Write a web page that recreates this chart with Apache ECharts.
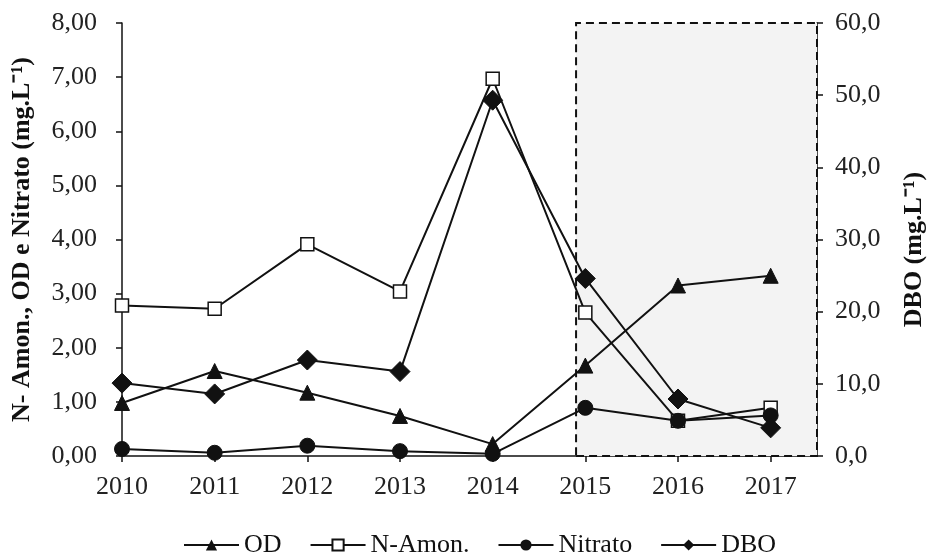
<!DOCTYPE html>
<html><head><meta charset="utf-8">
<script src="https://cdn.jsdelivr.net/npm/echarts@6/dist/echarts.min.js"></script>
<style>html,body{margin:0;padding:0;background:#fff}#c{width:935px;height:555px}</style>
</head><body><div id="c"></div>
<script>
const years = [2010, 2011, 2012, 2013, 2014, 2015, 2016, 2017];
const od = [0.98, 1.57, 1.17, 0.74, 0.22, 1.67, 3.15, 3.33];
const nAmon = [2.78, 2.72, 3.91, 3.04, 6.97, 2.65, 0.65, 0.89];
const nitrato = [0.13, 0.06, 0.19, 0.09, 0.04, 0.89, 0.65, 0.75];
const dbo = [10.1, 8.6, 13.3, 11.7, 49.3, 24.6, 7.9, 3.9];
const shadeRange = [2014.9, 2017.5];

const font = 'Liberation Serif';
const pairs = arr => years.map((y, i) => [y, arr[i]]);
const lineStyle = {color: '#111', width: 2};

const chart = echarts.init(document.getElementById('c'));
chart.setOption({
  animation: false,
  textStyle: {fontFamily: font},
  grid: {left: 122, right: 111, top: 23, bottom: 99},
  legend: {
    left: 178, top: 527, itemWidth: 55, itemHeight: 14, itemGap: 28,
    textStyle: {fontFamily: font, fontSize: 26, color: '#111'},
    data: ['OD', 'N-Amon.', 'Nitrato', 'DBO']
  },
  xAxis: {
    type: 'value', min: 2010, max: 2017.5, interval: 1,
    axisLine: {lineStyle: {color: '#111', width: 1.5}},
    axisTick: {lineStyle: {color: '#111', width: 1.5}, length: 6},
    axisLabel: {fontFamily: font, fontSize: 26, color: '#222', margin: 18, showMaxLabel: false,
      formatter: v => Number.isInteger(v) ? String(v) : ''},
    splitLine: {show: false}
  },
  yAxis: [{
    type: 'value', min: 0, max: 8, interval: 1, position: 'left',
    name: 'N- Amon., OD e Nitrato (mg.L⁻¹)', nameLocation: 'middle', nameGap: 87,
    nameTextStyle: {fontFamily: font, fontSize: 26, fontWeight: 'bold', color: '#111'},
    axisLine: {show: true, lineStyle: {color: '#111', width: 1.5}},
    axisTick: {show: true, lineStyle: {color: '#111', width: 1.5}, length: 6},
    axisLabel: {fontFamily: font, fontSize: 26, color: '#222', margin: 25,
      formatter: v => v.toFixed(2).replace('.', ',')},
    splitLine: {show: false}
  }, {
    type: 'value', min: 0, max: 60, interval: 10, position: 'right',
    name: 'DBO (mg.L⁻¹)', nameLocation: 'middle', nameGap: 84, nameRotate: 90,
    nameTextStyle: {fontFamily: font, fontSize: 26, fontWeight: 'bold', color: '#111', padding: [0, 20, 0, 0]},
    axisLine: {show: true, lineStyle: {color: '#111', width: 1.5}},
    axisTick: {show: true, lineStyle: {color: '#111', width: 1.5}, length: 6},
    axisLabel: {fontFamily: font, fontSize: 26, color: '#222', margin: 18,
      formatter: v => v.toFixed(1).replace('.', ',')},
    splitLine: {show: false}
  }],
  series: [{
    name: 'shade', type: 'line', data: [], silent: true,
    markArea: {silent: true,
      itemStyle: {color: '#f3f3f3', borderColor: '#111', borderWidth: 2, borderType: [8, 5]},
      data: [[{xAxis: shadeRange[0], yAxis: 0}, {xAxis: shadeRange[1], yAxis: 8}]]}
  }, {
    name: 'OD', type: 'line', data: pairs(od), yAxisIndex: 0,
    symbol: 'triangle', symbolSize: 15, lineStyle,
    itemStyle: {color: '#111', borderColor: '#111'}
  }, {
    name: 'N-Amon.', type: 'line', data: pairs(nAmon), yAxisIndex: 0,
    symbol: 'rect', symbolSize: 13, lineStyle,
    itemStyle: {color: '#fff', borderColor: '#111', borderWidth: 1.5}
  }, {
    name: 'Nitrato', type: 'line', data: pairs(nitrato), yAxisIndex: 0,
    symbol: 'circle', symbolSize: 15, lineStyle,
    itemStyle: {color: '#111', borderColor: '#111'}
  }, {
    name: 'DBO', type: 'line', data: pairs(dbo), yAxisIndex: 1,
    symbol: 'diamond', symbolSize: 20, lineStyle,
    itemStyle: {color: '#111', borderColor: '#111'}
  }]
});
</script></body></html>
